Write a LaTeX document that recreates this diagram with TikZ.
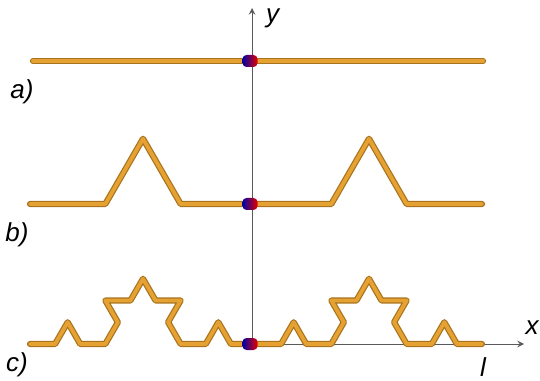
\documentclass[tikz,border=0pt]{standalone}
\usepackage{fontspec}
\setmainfont{Liberation Sans}
\usetikzlibrary{decorations.fractals}
\definecolor{rodlight}{HTML}{E5A232}
\definecolor{roddark}{HTML}{A8731C}
\definecolor{axisgray}{HTML}{5A5A5A}
\begin{document}
\begin{tikzpicture}[x=0.5pt,y=0.5pt,line join=round,line cap=round,>=stealth,font=\fontsize{13}{15}\selectfont\itshape]
	\tikzset{rod/.style={draw=roddark,double=rodlight,line width=0.6pt,double distance=1.9pt,decoration=Koch snowflake},
		ball/.style={rounded corners=2pt,left color=blue!65!black,right color=red!90!black,minimum width=7.5pt,minimum height=6pt,inner sep=0pt}}
	\useasboundingbox (0,0) rectangle (540,380);
	\def \ya{319} \def \yb{176} \def \yc{36}
	\def \xo{252}
	% axes
	\coordinate (O) at (\xo,\yc);
	\coordinate (ytip) at (\xo,372);
	\coordinate (xtip) at (524,\yc);
	\draw[axisgray,line width=0.5pt,->] (O)--(ytip);
	\draw[axisgray,line width=0.5pt,->] (O)--(xtip);
	\node[anchor=west] (ylab) at (259,362) {y};
	\node (xlab) at (532,52) {x};
	\node (llab) at (483,13) {l};
	% a) straight rod
	\draw[rod] (33,\ya)--(483,\ya);
	% b) first step
	\draw[rod] decorate{(30,\yb)--(256,\yb)};
	\draw[rod] decorate{(256,\yb)--(482,\yb)};
	% c) second step
	\draw[rod] decorate{decorate{(30,\yc)--(256,\yc)}};
	\draw[rod] decorate{decorate{(256,\yc)--(482,\yc)}};
	% joints
	\foreach \y/\n in {\ya/ja,\yb/jb,\yc/jc} \node[ball] (\n) at (250,\y) {};
	\node (la) at (22,288) {a)};
	\node (lb) at (17,145) {b)};
	\node (lc) at (17,15) {c)};
\end{tikzpicture}
\end{document}
